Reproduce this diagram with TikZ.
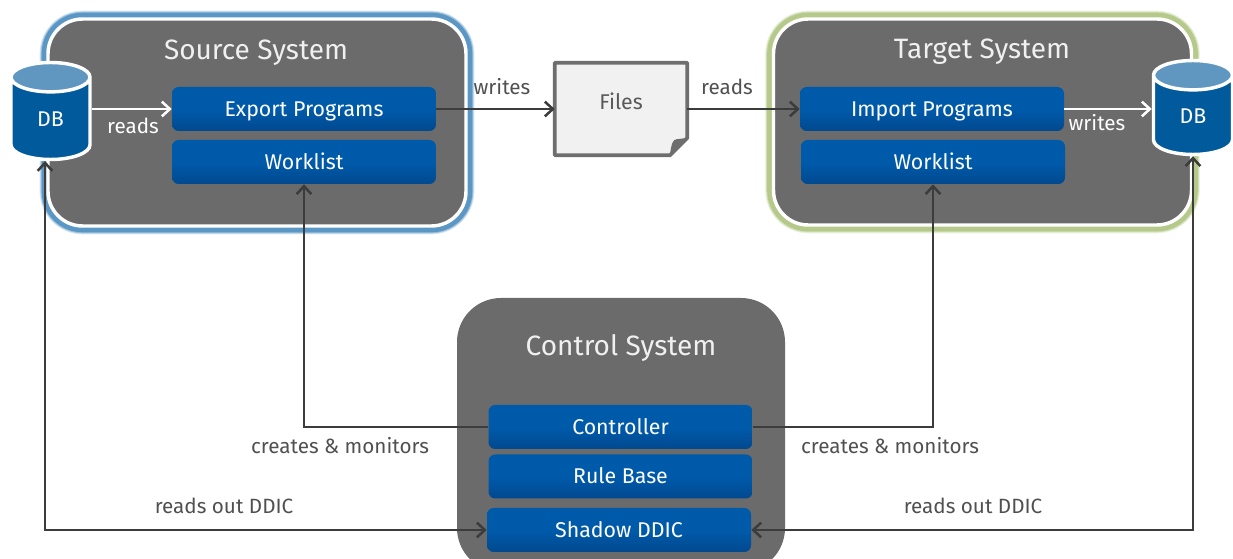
\documentclass[tikz,border=0pt]{standalone}
\usepackage{fontspec}
\setmainfont{Fira Sans}
\usetikzlibrary{arrows.meta,shapes.geometric}
\definecolor{sysgray}{HTML}{6B6B6B}
\definecolor{boxtop}{HTML}{005AAA}
\definecolor{boxbot}{HTML}{01498F}
\definecolor{dbblue}{HTML}{005A9C}
\definecolor{dbtop}{HTML}{6097C0}
\definecolor{haloblue}{HTML}{5B97C4}
\definecolor{halogreen}{HTML}{B5C98A}
\definecolor{linedark}{HTML}{3C3C3C}
\definecolor{filegray}{HTML}{F1F1F1}
\definecolor{fileedge}{HTML}{6E6E6E}
\tikzset{
  sz/.style 2 args={minimum width=#1*0.75pt,minimum height=#2*0.75pt,inner sep=0pt},
  sysbox/.style={fill=sysgray,rounded corners=26pt},
  halo/.style={
    preaction={draw=#1!25,line width=12.5pt},
    preaction={draw=#1!60,line width=11pt},
    preaction={draw=#1,line width=9.5pt},
    draw=white,line width=2.6pt},
  systitle/.style={text=white!94!black,font=\fontsize{21}{25}\selectfont,text height=13.5pt,text depth=1.5pt},
  progbox/.style={sz={264}{44},top color=boxtop,bottom color=boxbot,middle color=boxtop,
    rounded corners=5pt,text=white,font=\fontsize{16}{19}\selectfont,text height=12.2pt,text depth=1pt},
  dbnode/.style={cylinder,shape border rotate=90,shape aspect=1.1,sz={79}{#1},anchor=shape center,
    draw=white,line width=2.6pt,cylinder uses custom fill,
    cylinder body fill=dbblue,cylinder end fill=dbtop,
    text=white,font=\fontsize{16}{19}\selectfont},
  flow/.style={line width=1.9pt,color=linedark,-{Straight Barb[length=6pt,width=11pt,line width=1.9pt]}},
  flowboth/.style={line width=1.9pt,color=linedark,{Straight Barb[length=6pt,width=11pt,line width=1.9pt]}-{Straight Barb[length=6pt,width=11pt,line width=1.9pt]}},
  whiteflow/.style={line width=1.9pt,color=white,-{Straight Barb[length=6pt,width=11pt,line width=1.9pt]}},
  darklabel/.style={text=linedark!90!white,font=\fontsize{15.5}{18}\selectfont,text height=10.5pt,text depth=1.5pt},
  whitelabel/.style={text=white,font=\fontsize{15.5}{18}\selectfont,text height=10.5pt,text depth=1.5pt},
}
\begin{document}
\begin{tikzpicture}[x=0.75pt,y=-0.75pt]
\useasboundingbox (0,0) rectangle (1233,559);
\clip (0,0) rectangle (1233,559);
% systems
\node[sysbox,sz={418}{207},halo=haloblue] (source) at (257,122.5) {};
\node[sysbox,sz={418}{206},halo=halogreen] (target) at (982.5,122) {};
\node[sysbox,sz={328}{274},rounded corners=33pt] (control) at (621,435) {};
\node[systitle] (sourcetitle) at (256,52) {Source System};
\node[systitle] (targettitle) at (982,51) {Target System};
\node[systitle] (controltitle) at (621,348) {Control System};
% program boxes
\node[progbox] (export) at (304,109) {Export Programs};
\node[progbox] (worklistS) at (304,162) {Worklist};
\node[progbox] (import) at (932,109) {Import Programs};
\node[progbox] (worklistT) at (933,162) {Worklist};
\node[progbox] (controller) at (620.5,427) {Controller};
\node[progbox] (rulebase) at (620.5,476.5) {Rule Base};
\node[progbox] (shadow) at (619,530) {Shadow DDIC};
% files
\node[sz={132}{92}] (files) at (621,109) {};
\draw[line width=2.8pt,draw=fileedge,fill=filegray,line join=round]
  (files.north west) -- (files.north east) -- ([yshift=13pt]files.south east)
  -- ([xshift=-13pt]files.south east) -- (files.south west) -- cycle;
\fill[fileedge] ([xshift=-13pt]files.south east) .. controls ([xshift=-12pt,yshift=8pt]files.south east) and ([xshift=-11pt,yshift=12pt]files.south east) .. ([xshift=-8pt,yshift=12pt]files.south east) -- ([yshift=13pt]files.south east) -- cycle;
\node[text=linedark!85!white,font=\fontsize{16}{19}\selectfont] (fileslabel) at (621,101) {Files};
% databases
\node[dbnode=97] (dbS) at (50.5,111) {DB};
\node[dbnode=94] (dbT) at (1193,107.5) {DB};
\coordinate (dbSin) at (45,161);
% connectors
\draw[whiteflow] (dbS.east |- export.west) -- (export.west);
\draw[whiteflow] (import.east) -- (dbT.west |- import.east);
\draw[flow] (export.east) -- (files.west);
\draw[flow] (files.east) -- (import.west);
\draw[flow] (controller.west) -| (worklistS.south);
\draw[flow] (controller.east) -| (worklistT.south);
\draw[flowboth] (shadow.west) -| (dbSin);
\draw[flowboth] (shadow.east) -| (dbT.south);
% labels
\node[whitelabel] (lreads) at (133,128) {reads};
\node[whitelabel] (lwrites) at (1097,125) {writes};
\node[darklabel] (lwrites2) at (502,89) {writes};
\node[darklabel] (lreads2) at (727,89) {reads};
\node[darklabel] (lcm1) at (340,448) {creates \& monitors};
\node[darklabel] (lcm2) at (890,448) {creates \& monitors};
\node[darklabel] (lddic1) at (224,508) {reads out DDIC};
\node[darklabel] (lddic2) at (973,508) {reads out DDIC};
\end{tikzpicture}
\end{document}
